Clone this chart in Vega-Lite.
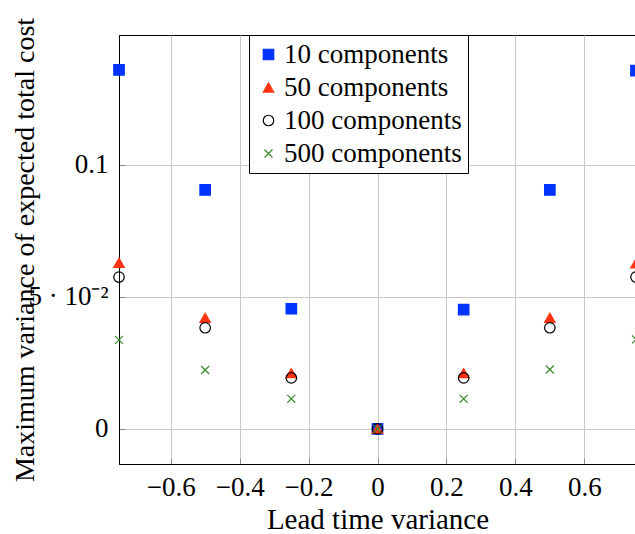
{
  "$schema": "https://vega.github.io/schema/vega-lite/v6.json",
  "autosize": {"type": "none"},
  "padding": {"left": 119, "top": 35, "right": 0, "bottom": 70},
  "width": 517,
  "height": 429,
  "background": "white",
  "config": {
    "font": "Liberation Serif",
    "view": {"stroke": "black", "strokeWidth": 1},
    "axis": {
      "labelFont": "Liberation Serif",
      "titleFont": "Liberation Serif",
      "labelFontSize": 27,
      "titleFontSize": 29,
      "labelColor": "black",
      "titleColor": "black",
      "titleFontWeight": "normal",
      "gridColor": "#c8c8c8",
      "gridWidth": 1,
      "gridOpacity": 1,
      "domainColor": "black",
      "domainWidth": 1,
      "tickColor": "#888888",
      "tickSize": -6,
      "tickWidth": 1
    }
  },
  "data": {
    "values": [
      {"x": -0.75, "y": 0.136, "s": "10 components"},
      {"x": -0.5, "y": 0.0905, "s": "10 components"},
      {"x": -0.25, "y": 0.0455, "s": "10 components"},
      {"x": 0, "y": 0, "s": "10 components"},
      {"x": 0.25, "y": 0.0452, "s": "10 components"},
      {"x": 0.5, "y": 0.0905, "s": "10 components"},
      {"x": 0.75, "y": 0.1357, "s": "10 components"},
      {"x": -0.75, "y": 0.0629, "s": "50 components"},
      {"x": -0.5, "y": 0.0421, "s": "50 components"},
      {"x": -0.25, "y": 0.0211, "s": "50 components"},
      {"x": 0, "y": 0, "s": "50 components"},
      {"x": 0.25, "y": 0.0211, "s": "50 components"},
      {"x": 0.5, "y": 0.0421, "s": "50 components"},
      {"x": 0.75, "y": 0.0627, "s": "50 components"},
      {"x": -0.75, "y": 0.0575, "s": "100 components"},
      {"x": -0.5, "y": 0.0383, "s": "100 components"},
      {"x": -0.25, "y": 0.0193, "s": "100 components"},
      {"x": 0, "y": 0, "s": "100 components"},
      {"x": 0.25, "y": 0.0193, "s": "100 components"},
      {"x": 0.5, "y": 0.0383, "s": "100 components"},
      {"x": 0.75, "y": 0.0575, "s": "100 components"},
      {"x": -0.75, "y": 0.0337, "s": "500 components"},
      {"x": -0.5, "y": 0.0223, "s": "500 components"},
      {"x": -0.25, "y": 0.0114, "s": "500 components"},
      {"x": 0, "y": 0, "s": "500 components"},
      {"x": 0.25, "y": 0.0114, "s": "500 components"},
      {"x": 0.5, "y": 0.0225, "s": "500 components"},
      {"x": 0.75, "y": 0.0339, "s": "500 components"}
    ]
  },
  "mark": {"type": "point", "size": 110, "strokeWidth": 1.2, "opacity": 1, "clip": false},
  "encoding": {
    "x": {
      "field": "x",
      "type": "quantitative",
      "scale": {"domain": [-0.75, 0.75], "nice": false, "zero": false},
      "axis": {
        "title": "Lead time variance",
        "values": [-0.6, -0.4, -0.2, 0, 0.2, 0.4, 0.6],
        "labelExpr": "datum.value == 0 ? '0' : format(datum.value, '.1f')",
        "labelPadding": 16,
        "titleY": 55,
        "titleBaseline": "middle",
        "titlePadding": 10
      }
    },
    "y": {
      "field": "y",
      "type": "quantitative",
      "scale": {"domain": [-0.0133, 0.1492], "nice": false, "zero": false},
      "axis": {
        "title": "Maximum variance of expected total cost",
        "titleFontSize": 28,
        "values": [0, 0.05, 0.1],
        "labelExpr": "datum.value == 0 ? '0' : (abs(datum.value - 0.05) < 0.001 ? '5 · 10⁻²' : '0.1')",
        "labelPadding": 17,
        "titleX": -94,
        "titleY": 214.5,
        "titleAngle": -90,
        "titleBaseline": "middle",
        "titleAlign": "center"
      }
    },
    "shape": {
      "field": "s",
      "type": "nominal",
      "sort": null,
      "scale": {
        "domain": ["10 components", "50 components", "100 components", "500 components"],
        "range": ["square", "triangle-up", "circle", "M-0.76,-0.76L0.76,0.76M-0.76,0.76L0.76,-0.76"]
      },
      "legend": {
        "title": null,
        "orient": "none",
        "legendX": 130,
        "legendY": 0,
        "fillColor": "white",
        "strokeColor": "black",
        "padding": 6,
        "labelFont": "Liberation Serif",
        "labelFontSize": 27,
        "labelColor": "black",
        "labelOffset": 2,
        "labelLimit": 400,
        "rowPadding": 5,
        "symbolSize": 110,
        "symbolStrokeWidth": 1.2
      }
    },
    "fill": {
      "field": "s",
      "type": "nominal",
      "sort": null,
      "scale": {
        "domain": ["10 components", "50 components", "100 components", "500 components"],
        "range": ["#0033ff", "#ff3311", "transparent", "transparent"]
      },
      "legend": {
        "title": null,
        "orient": "none",
        "legendX": 130,
        "legendY": 0
      }
    },
    "stroke": {
      "field": "s",
      "type": "nominal",
      "sort": null,
      "scale": {
        "domain": ["10 components", "50 components", "100 components", "500 components"],
        "range": ["#0033ff", "#ff3311", "black", "#3c8a2e"]
      },
      "legend": {
        "title": null,
        "orient": "none",
        "legendX": 130,
        "legendY": 0
      }
    }
  }
}
